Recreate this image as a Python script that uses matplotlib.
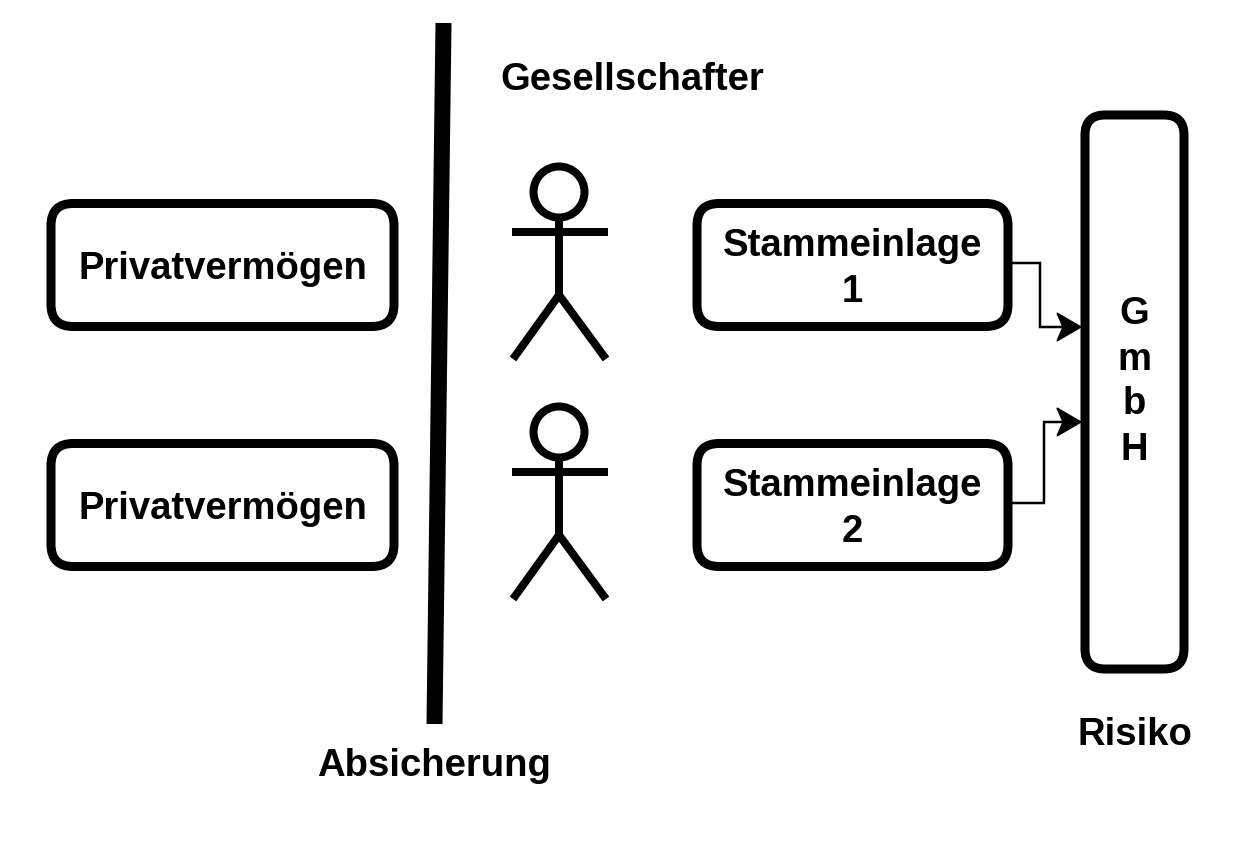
import matplotlib.pyplot as plt
from matplotlib.patches import FancyBboxPatch, Circle, Polygon

plt.rcParams['font.family'] = ['Liberation Sans', 'DejaVu Sans']

# Inhalte des Diagramms
left_labels = ['Privatvermögen', 'Privatvermögen']
right_labels = ['Stammeinlage\n1', 'Stammeinlage\n2']
gmbh_label = 'G\nm\nb\nH'
top_label = 'Gesellschafter'
line_label = 'Absicherung'
risk_label = 'Risiko'

# Layout (Pixel, y nach unten)
W, H = 1248, 842
row_y = [265, 505]          # Zeilenmitte
row_h = 123
left_x = (51, 394)
right_x = (697, 1008)
gmbh_box = (1085, 115, 1184, 669)
fig_x = 559
FS = 27.5
LW_BOX = 9 * 0.72
LINE_GAP = 45

fig = plt.figure(figsize=(W / 100, H / 100), dpi=100)
ax = fig.add_axes([0, 0, 1, 1])
ax.set_xlim(0, W)
ax.set_ylim(H, 0)
ax.axis('off')


def box(x0, y0, x1, y1, r=22):
    p = FancyBboxPatch((x0, y0), x1 - x0, y1 - y0,
                       boxstyle=f'round,pad=0,rounding_size={r}',
                       fc='white', ec='black', lw=LW_BOX, joinstyle='round')
    ax.add_patch(p)


def label(x, y_center, txt):
    lines = txt.split('\n')
    base0 = y_center + 14 - (len(lines) - 1) * LINE_GAP / 2
    for i, ln in enumerate(lines):
        ax.text(x, base0 + i * LINE_GAP, ln, ha='center', va='baseline',
                fontsize=FS, fontweight='bold')


def stick(y_off):
    lw = 8 * 0.72
    ax.add_patch(Circle((fig_x, 192 + y_off), 25.5, fc='white', ec='black', lw=lw))
    ax.plot([fig_x, fig_x], [218 + y_off, 295 + y_off], color='black', lw=lw)
    ax.plot([fig_x - 47, fig_x + 49], [232 + y_off, 232 + y_off], color='black', lw=lw,
            solid_capstyle='butt')
    ax.plot([fig_x - 46, fig_x, fig_x + 47], [359 + y_off, 295 + y_off, 359 + y_off],
            color='black', lw=lw, solid_capstyle='butt', solid_joinstyle='miter')


def arrow(xs, ys):
    ax.plot(xs[:-1] + [xs[-1] - 18], ys, color='black', lw=2.5 * 0.72,
            solid_joinstyle='miter')
    tx, ty = xs[-1], ys[-1]
    head = Polygon([(tx, ty), (tx - 24, ty - 14), (tx - 18, ty), (tx - 24, ty + 14)],
                   closed=True, fc='black', ec='black', lw=1)
    ax.add_patch(head)


for i, yc in enumerate(row_y):
    box(left_x[0], yc - row_h / 2, left_x[1], yc + row_h / 2)
    label((left_x[0] + left_x[1]) / 2, yc, left_labels[i])
    box(right_x[0], yc - row_h / 2, right_x[1], yc + row_h / 2)
    label((right_x[0] + right_x[1]) / 2, yc, right_labels[i])
    stick(yc - 265)

# GmbH
box(*gmbh_box, r=20)
label((gmbh_box[0] + gmbh_box[2]) / 2, 378, gmbh_label)

# Verbindungen Stammeinlage -> GmbH
arrow([1008, 1040, 1040, 1081], [263, 263, 327, 327])
arrow([1008, 1044, 1044, 1081], [503, 503, 422, 422])

# Trennlinie
ax.plot([443.5, 434.5], [23, 724], color='black', lw=16 * 0.72, solid_capstyle='butt')

ax.text(632, 90, top_label, ha='center', va='baseline', fontsize=FS, fontweight='bold')
ax.text(434, 776, line_label, ha='center', va='baseline', fontsize=FS, fontweight='bold')
ax.text(1135, 745, risk_label, ha='center', va='baseline', fontsize=FS, fontweight='bold')

fig.savefig('out.png', dpi=100, facecolor='white')
